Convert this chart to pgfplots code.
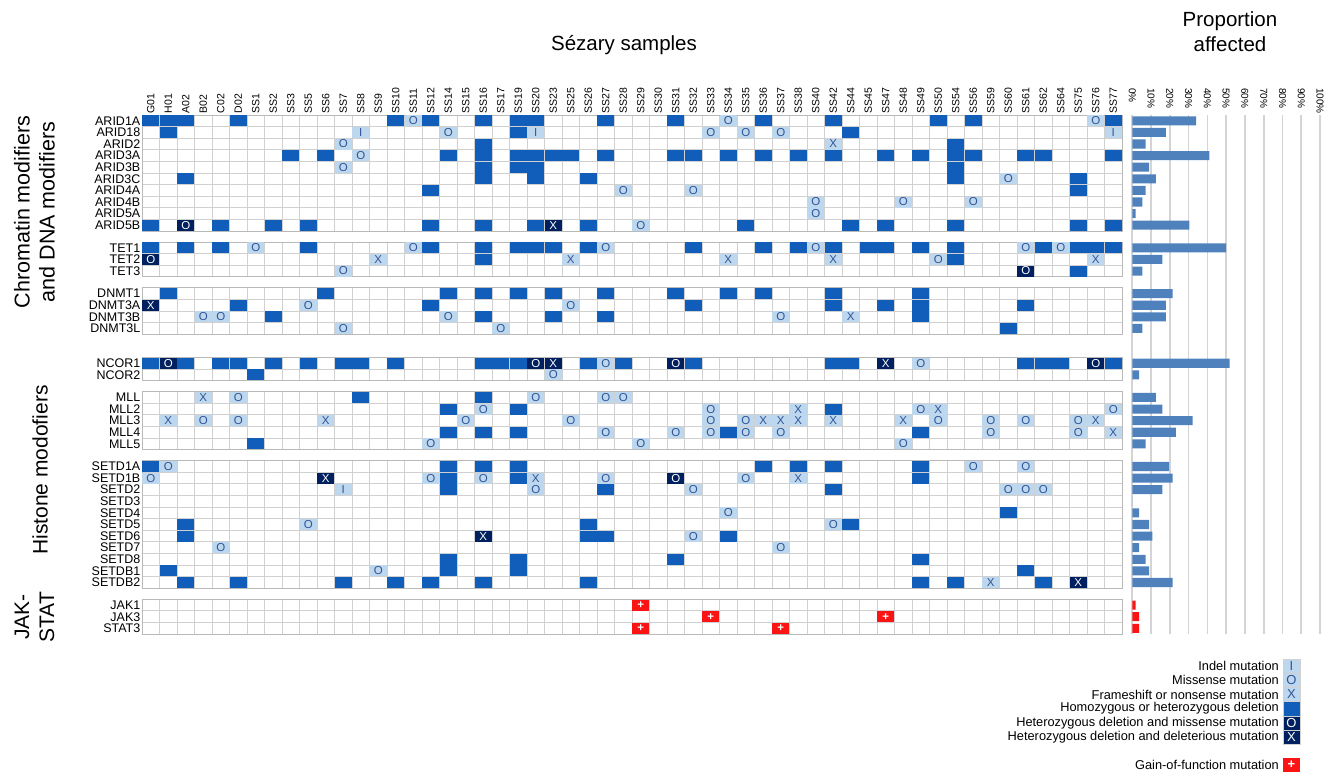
\documentclass[border=0pt]{standalone}
\usepackage{pgfplots}
\pgfplotsset{compat=1.18}
\usepackage{pgfplotstable}
\usepackage{fontspec}
\setmainfont{Liberation Sans}

\definecolor{lightc}{RGB}{189,215,238}
\definecolor{lighttxt}{RGB}{47,85,151}
\definecolor{delc}{RGB}{16,94,186}
\definecolor{darkc}{RGB}{0,32,96}
\definecolor{gainc}{RGB}{250,20,20}
\definecolor{barc}{RGB}{79,129,189}
\definecolor{gridc}{RGB}{208,208,208}
\definecolor{boxc}{RGB}{185,185,185}
\definecolor{bgridc}{RGB}{212,212,212}

\pgfdeclareplotmark{cell}{\pgfpathrectangle{\pgfpoint{-8.45pt}{-5.5pt}}{\pgfpoint{16.9pt}{11pt}}\pgfusepathqfill}

% row index -> vertical position (in row units, groups separated by gaps)
\newcommand{\ry}[1]{(#1+0.5+0.95*(#1>9.5)+0.95*(#1>12.5)+2.0*(#1>16.5)+0.95*(#1>18.5)+0.95*(#1>23.5)+0.95*(#1>34.5))}

\newcommand{\vlines}[2]{\pgfplotsinvokeforeach{0,...,56}{\draw[gridc, line width=0.9pt] (axis cs:##1,#1) -- (axis cs:##1,#2);}}
\newcommand{\hlines}[1]{\pgfplotsinvokeforeach{#1}{\draw[gridc, line width=0.9pt] (axis cs:0,##1) -- (axis cs:56,##1);}}
\newcommand{\gbox}[2]{\draw[boxc, line width=1pt] (axis cs:0,#1) rectangle (axis cs:56,#2);}

\pgfplotsset{
  cellA/.style n args={3}{only marks, mark=cell, color=#1, fill=#1,
    nodes near coords={#3},
    every node near coord/.append style={text=#2, anchor=center, inner sep=0pt, font=\fontsize{11.5}{11.5}\selectfont}},
  cellD/.style={only marks, mark=cell, color=delc, fill=delc},
}

% homozygous or heterozygous deletion
\pgfplotstableread[row sep=\\]{c r\\
0 0\\1 0\\2 0\\5 0\\14 0\\16 0\\19 0\\21 0\\22 0\\26 0\\30 0\\35 0\\39 0\\45 0\\47 0\\55 0\\
1 1\\21 1\\40 1\\
19 2\\46 2\\
8 3\\10 3\\17 3\\19 3\\21 3\\22 3\\23 3\\24 3\\26 3\\30 3\\31 3\\33 3\\35 3\\37 3\\39 3\\42 3\\44 3\\46 3\\47 3\\50 3\\51 3\\55 3\\
19 4\\21 4\\22 4\\46 4\\
2 5\\19 5\\22 5\\25 5\\46 5\\53 5\\
16 6\\53 6\\
0 9\\4 9\\7 9\\9 9\\16 9\\19 9\\22 9\\25 9\\34 9\\40 9\\42 9\\46 9\\53 9\\55 9\\
0 10\\2 10\\4 10\\9 10\\16 10\\19 10\\21 10\\22 10\\23 10\\25 10\\31 10\\35 10\\37 10\\39 10\\41 10\\42 10\\44 10\\46 10\\51 10\\53 10\\54 10\\55 10\\
19 11\\46 11\\
53 12\\
1 13\\10 13\\17 13\\19 13\\21 13\\23 13\\26 13\\30 13\\33 13\\35 13\\39 13\\44 13\\
5 14\\16 14\\31 14\\39 14\\42 14\\44 14\\50 14\\
7 15\\19 15\\23 15\\26 15\\44 15\\
49 16\\
0 17\\2 17\\4 17\\5 17\\7 17\\9 17\\11 17\\12 17\\14 17\\19 17\\20 17\\21 17\\25 17\\27 17\\31 17\\39 17\\40 17\\50 17\\51 17\\52 17\\55 17\\
6 18\\
12 19\\19 19\\
17 20\\21 20\\39 20\\
17 22\\19 22\\21 22\\33 22\\44 22\\
6 23\\
0 24\\17 24\\19 24\\21 24\\35 24\\37 24\\39 24\\44 24\\
17 25\\21 25\\44 25\\
17 26\\26 26\\39 26\\
49 28\\
2 29\\25 29\\40 29\\
2 30\\25 30\\26 30\\33 30\\
17 32\\21 32\\30 32\\44 32\\
1 33\\17 33\\21 33\\50 33\\
2 34\\5 34\\11 34\\14 34\\16 34\\19 34\\25 34\\44 34\\46 34\\51 34\\
}\tabDel

% missense mutation
\pgfplotstableread[row sep=\\]{c r\\
15 0\\33 0\\54 0\\
17 1\\32 1\\34 1\\36 1\\
11 2\\12 3\\11 4\\49 5\\
27 6\\31 6\\
38 7\\43 7\\47 7\\
38 8\\28 9\\
6 10\\15 10\\26 10\\38 10\\50 10\\52 10\\
45 11\\11 12\\
9 14\\24 14\\
3 15\\4 15\\17 15\\36 15\\
11 16\\20 16\\
26 17\\44 17\\
23 18\\
5 19\\22 19\\26 19\\27 19\\
19 20\\32 20\\44 20\\55 20\\
3 21\\5 21\\18 21\\24 21\\32 21\\34 21\\45 21\\48 21\\50 21\\53 21\\
26 22\\30 22\\32 22\\34 22\\36 22\\48 22\\53 22\\
16 23\\28 23\\43 23\\
1 24\\47 24\\50 24\\
0 25\\16 25\\19 25\\26 25\\34 25\\
22 26\\31 26\\49 26\\50 26\\51 26\\
33 28\\
9 29\\39 29\\
31 30\\
4 31\\36 31\\
13 33\\
}\tabMis

% frameshift or nonsense mutation
\pgfplotstableread[row sep=\\]{c r\\
39 2\\13 11\\24 11\\33 11\\39 11\\54 11\\40 15\\3 19\\37 20\\45 20\\
1 21\\10 21\\35 21\\36 21\\37 21\\39 21\\43 21\\54 21\\55 22\\22 25\\37 25\\48 34\\
}\tabFs

% indel mutation
\pgfplotstableread[row sep=\\]{c r\\
12 1\\22 1\\55 1\\11 26\\
}\tabIndel

% heterozygous deletion and missense mutation
\pgfplotstableread[row sep=\\]{c r\\
2 9\\0 11\\50 12\\1 17\\22 17\\30 17\\54 17\\30 25\\
}\tabDelMis

% heterozygous deletion and deleterious mutation
\pgfplotstableread[row sep=\\]{c r\\
23 9\\0 14\\23 17\\42 17\\10 25\\19 30\\53 34\\
}\tabDelDel

% gain-of-function mutation
\pgfplotstableread[row sep=\\]{c r\\
28 35\\32 36\\42 36\\28 37\\36 37\\
}\tabGain

% proportion affected (%)
\pgfplotstableread[row sep=\\]{r v\\
0 33.93\\1 17.86\\2 7.14\\3 41.07\\4 8.93\\5 12.5\\6 7.14\\7 5.36\\8 1.79\\9 30.36\\
10 50\\11 16.07\\12 5.36\\13 21.43\\14 17.86\\15 17.86\\16 5.36\\17 51.79\\18 3.57\\
19 12.5\\20 16.07\\21 32.14\\22 23.21\\23 7.14\\24 19.64\\25 21.43\\26 16.07\\27 0\\
28 3.57\\29 8.93\\30 10.71\\31 3.57\\32 7.14\\33 8.93\\34 21.43\\
}\tabProp
\pgfplotstableread[row sep=\\]{r v\\
35 1.79\\36 3.57\\37 3.57\\
}\tabPropJ

\begin{document}
\begin{tikzpicture}
\useasboundingbox (0,0) rectangle (1324pt,-771pt);

\begin{axis}[
  at={(142pt,-115pt)}, anchor=north west,
  scale only axis, width=980pt, height=519.1pt,
  xmin=0, xmax=56, ymin=-44.75, ymax=0,
  clip=false,
  axis line style={draw=none}, major tick length=0pt,
  xtick={0.5,1.5,...,55.5},
  xticklabels={G01,H01,A02,B02,C02,D02,SS1,SS2,SS3,SS5,SS6,SS7,SS8,SS9,SS10,SS11,SS12,SS14,SS15,SS16,SS17,SS19,SS20,SS23,SS25,SS26,SS27,SS28,SS29,SS30,SS31,SS32,SS33,SS34,SS35,SS36,SS37,SS38,SS40,SS42,SS44,SS45,SS47,SS48,SS49,SS50,SS54,SS56,SS59,SS60,SS61,SS62,SS64,SS75,SS76,SS77},
  xticklabel pos=upper,
  xticklabel style={rotate=90, anchor=west, inner sep=1.5pt, font=\fontsize{10.5}{10.5}\selectfont},
  ytick={-44.25,-43.25,-42.25,-40.3,-39.3,-38.3,-37.3,-36.3,-35.3,-34.3,-33.3,-32.3,-31.3,-30.3,-28.35,-27.35,-26.35,-25.35,-24.35,-22.4,-21.4,-18.4,-17.4,-16.4,-15.4,-13.45,-12.45,-11.45,-9.5,-8.5,-7.5,-6.5,-5.5,-4.5,-3.5,-2.5,-1.5,-0.5},
  yticklabels={STAT3,JAK3,JAK1,SETDB2,SETDB1,SETD8,SETD7,SETD6,SETD5,SETD4,SETD3,SETD2,SETD1B,SETD1A,MLL5,MLL4,MLL3,MLL2,MLL,NCOR2,NCOR1,DNMT3L,DNMT3B,DNMT3A,DNMT1,TET3,TET2,TET1,ARID5B,ARID5A,ARID4B,ARID4A,ARID3C,ARID3B,ARID3A,ARID2,ARID18,ARID1A},
  yticklabel style={anchor=east, inner sep=1.5pt, font=\fontsize{12.5}{12.5}\selectfont},
]
% grid of each gene group
\vlines{0}{-10}
\hlines{0,-1,-2,-3,-4,-5,-6,-7,-8,-9,-10}
\vlines{-10.95}{-13.95}
\hlines{-10.95,-11.95,-12.95,-13.95}
\vlines{-14.9}{-18.9}
\hlines{-14.9,-15.9,-16.9,-17.9,-18.9}
\vlines{-20.9}{-22.9}
\hlines{-20.9,-21.9,-22.9}
\vlines{-23.85}{-28.85}
\hlines{-23.85,-24.85,-25.85,-26.85,-27.85,-28.85}
\vlines{-29.8}{-40.8}
\hlines{-29.8,-30.8,-31.8,-32.8,-33.8,-34.8,-35.8,-36.8,-37.8,-38.8,-39.8,-40.8}
\vlines{-41.75}{-44.75}
\hlines{-41.75,-42.75,-43.75,-44.75}
\gbox{0}{-10}
\gbox{-10.95}{-13.95}
\gbox{-14.9}{-18.9}
\gbox{-20.9}{-22.9}
\gbox{-23.85}{-28.85}
\gbox{-29.8}{-40.8}
\gbox{-41.75}{-44.75}

\addplot[cellD] table[x expr=\thisrow{c}+0.5, y expr=-\ry{\thisrow{r}}] {\tabDel};
\addplot[cellA={lightc}{lighttxt}{O}] table[x expr=\thisrow{c}+0.5, y expr=-\ry{\thisrow{r}}] {\tabMis};
\addplot[cellA={lightc}{lighttxt}{X}] table[x expr=\thisrow{c}+0.5, y expr=-\ry{\thisrow{r}}] {\tabFs};
\addplot[cellA={lightc}{lighttxt}{I}] table[x expr=\thisrow{c}+0.5, y expr=-\ry{\thisrow{r}}] {\tabIndel};
\addplot[cellA={darkc}{white}{O}] table[x expr=\thisrow{c}+0.5, y expr=-\ry{\thisrow{r}}] {\tabDelMis};
\addplot[cellA={darkc}{white}{X}] table[x expr=\thisrow{c}+0.5, y expr=-\ry{\thisrow{r}}] {\tabDelDel};
\addplot[cellA={gainc}{white}{\textbf{+}}] table[x expr=\thisrow{c}+0.5, y expr=-\ry{\thisrow{r}}] {\tabGain};
\end{axis}

% proportion affected
\begin{axis}[
  at={(1132.3pt,-115pt)}, anchor=north west,
  scale only axis, width=187.7pt, height=519.1pt,
  xmin=0, xmax=100, ymin=-44.75, ymax=0,
  axis line style={draw=none}, major tick length=0pt,
  ytick=\empty,
  xtick={0,10,...,100},
  xticklabels={\makebox[25pt][l]{0\%},\makebox[25pt][l]{10\%},\makebox[25pt][l]{20\%},\makebox[25pt][l]{30\%},\makebox[25pt][l]{40\%},\makebox[25pt][l]{50\%},\makebox[25pt][l]{60\%},\makebox[25pt][l]{70\%},\makebox[25pt][l]{80\%},\makebox[25pt][l]{90\%},\makebox[25pt][l]{100\%}},
  xticklabel pos=upper,
  xticklabel style={rotate=-90, anchor=east, inner sep=1.5pt, font=\fontsize{10}{10}\selectfont},
  xmajorgrids, major grid style={line width=1.7pt, color=bgridc},
  xbar, bar shift=0pt, bar width=0.78,
]
\addplot[xbar, bar shift=0pt, fill=barc, draw=none] table[x=v, y expr=-\ry{\thisrow{r}}] {\tabProp};
\addplot[xbar, bar shift=0pt, fill=gainc, draw=none] table[x=v, y expr=-\ry{\thisrow{r}}] {\tabPropJ};
\end{axis}

% titles
\node[font=\fontsize{20.5}{24}\selectfont] at (624pt,-45pt) {Sézary samples};
\node[font=\fontsize{20.5}{25}\selectfont, align=center] at (1230pt,-32pt) {Proportion\\affected};
\node[rotate=90, align=center, font=\fontsize{21.5}{25}\selectfont] at (34.5pt,-212pt) {Chromatin modifiers\\and DNA modifiers};
\node[rotate=90, font=\fontsize{21}{25}\selectfont] at (40pt,-470pt) {Histone modofiers};
\node[rotate=90, align=center, font=\fontsize{21}{25}\selectfont] at (34.5pt,-617pt) {JAK-\\STAT};

% legend
\begin{scope}[font=\fontsize{12.8}{13}\selectfont]
\node[anchor=east, inner sep=0pt] at (1279pt,-666pt) {Indel mutation};
\node[anchor=east, inner sep=0pt] at (1279pt,-680pt) {Missense mutation};
\node[anchor=east, inner sep=0pt] at (1279pt,-694.5pt) {Frameshift or nonsense mutation};
\node[anchor=east, inner sep=0pt] at (1279pt,-708.5pt) {Homozygous or heterozygous deletion};
\node[anchor=east, inner sep=0pt] at (1279pt,-723pt) {Heterozygous deletion and missense mutation};
\node[anchor=east, inner sep=0pt] at (1279pt,-737pt) {Heterozygous deletion and deleterious mutation};
\node[anchor=east, inner sep=0pt] at (1279pt,-765pt) {Gain-of-function mutation};
\fill[lightc] (1283pt,-659pt) rectangle (1300pt,-673pt);
\fill[lightc] (1283pt,-673pt) rectangle (1300pt,-687.5pt);
\fill[lightc] (1283pt,-687.5pt) rectangle (1300pt,-701.5pt);
\fill[delc] (1283pt,-701.5pt) rectangle (1300pt,-716pt);
\fill[darkc] (1283pt,-716pt) rectangle (1300pt,-730pt);
\fill[darkc] (1283pt,-730pt) rectangle (1300pt,-744pt);
\draw[gridc, line width=0.8pt] (1283pt,-659pt) rectangle (1300pt,-744pt);
\foreach \yy in {-673,-687.5,-701.5,-716,-730} {\draw[gridc, line width=0.8pt] (1283pt,\yy pt) -- (1300pt,\yy pt);}
\node[text=lighttxt, font=\fontsize{13}{13}\selectfont] at (1291.5pt,-666pt) {I};
\node[text=lighttxt, font=\fontsize{13}{13}\selectfont] at (1291.5pt,-680pt) {O};
\node[text=lighttxt, font=\fontsize{13}{13}\selectfont] at (1291.5pt,-694.5pt) {X};
\node[text=white, font=\fontsize{13}{13}\selectfont] at (1291.5pt,-723pt) {O};
\node[text=white, font=\fontsize{13}{13}\selectfont] at (1291.5pt,-737pt) {X};
\fill[gainc] (1283pt,-758pt) rectangle (1300pt,-772pt);
\node[text=white, font=\bfseries\fontsize{13}{13}\selectfont] at (1291.5pt,-765pt) {+};
\end{scope}
\end{tikzpicture}
\end{document}
